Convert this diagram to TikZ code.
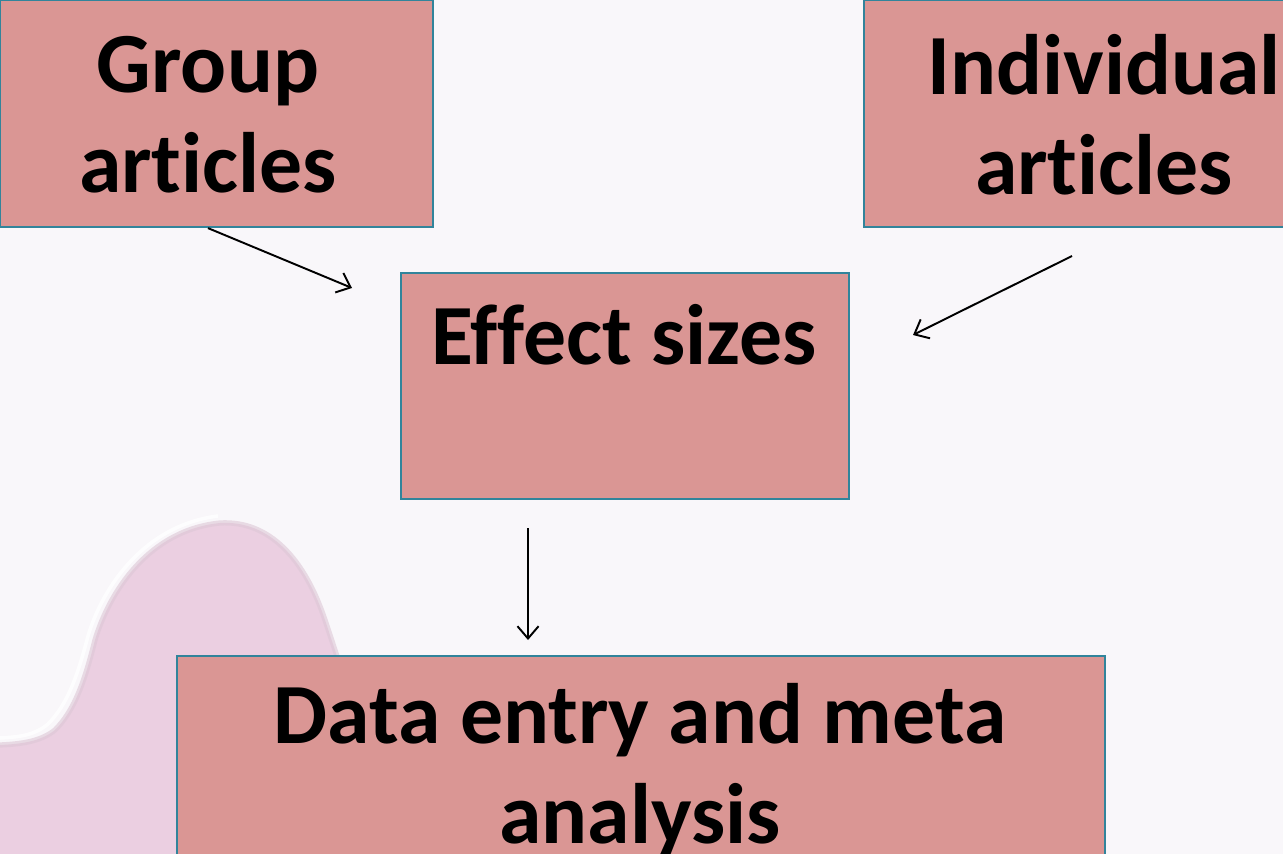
\documentclass[tikz,border=0pt]{standalone}
\usepackage{fontspec}
\setmainfont{Carlito}[Ligatures=NoCommon]
\usetikzlibrary{arrows.meta}
\definecolor{bg}{HTML}{F9F7FA}
\definecolor{boxfill}{HTML}{DA9694}
\definecolor{boxline}{HTML}{31849B}
\definecolor{blob}{HTML}{EBCFE1}
\definecolor{blobedge}{HTML}{DDC8D6}
\begin{document}
\begin{tikzpicture}[x=0.02cm,y=-0.02cm,
  box/.style={draw=boxline,line width=1.2pt,fill=boxfill,inner sep=0pt,anchor=north west},
  lbl/.style={font=\fontsize{48.8}{56.7}\selectfont\bfseries,align=center,inner sep=0pt},
  conn/.style={line width=1.1pt,-{Straight Barb[length=7pt,width=12pt,line width=1.1pt]}}]
\useasboundingbox (0,0) rectangle (1283,854);
\fill[bg] (0,0) rectangle (1283,854);
% background blob
\fill[blob] (0,745) .. controls (20,744) and (40,742) .. (55,730)
  .. controls (75,710) and (85,680) .. (95,640)
  .. controls (110,590) and (150,530) .. (220,523)
  .. controls (270,520) and (305,560) .. (325,620)
  .. controls (335,650) and (345,680) .. (350,700) -- (350,854) -- (0,854) -- cycle;
\draw[blobedge,line width=3pt,opacity=0.6] (0,745) .. controls (20,744) and (40,742) .. (55,730)
  .. controls (75,710) and (85,680) .. (95,640)
  .. controls (110,590) and (150,530) .. (220,523)
  .. controls (270,520) and (305,560) .. (325,620)
  .. controls (335,650) and (345,680) .. (350,700);
\draw[white,line width=2pt,opacity=0.8] (0,738) .. controls (20,737) and (35,735) .. (48,724)
  .. controls (68,704) and (78,674) .. (88,636)
  .. controls (103,586) and (145,525) .. (218,516);
% boxes
\node[box,minimum width=433*0.02cm,minimum height=227*0.02cm] (group) at (-1,-1) {};
\node[box,minimum width=440*0.02cm,minimum height=227*0.02cm] (indiv) at (863,-1) {};
\node[box,minimum width=448*0.02cm,minimum height=226*0.02cm] (effect) at (400,272) {};
\node[box,minimum width=928*0.02cm,minimum height=220*0.02cm] (data) at (176,655) {};
% labels
\node[lbl] (tgroup) at (208,115) {Group\\articles};
\node[lbl] (tindiv) at (1104,115) {Individual\\articles};
\node[lbl] (teffect) at (624,335) {Effect sizes};
\node[lbl] (tdata) at (640,770) {Data entry and meta\\analysis};
% connectors
\coordinate (e1) at (352,288);
\coordinate (s2) at (1072,256);
\coordinate (e2) at (913,335);
\coordinate (s3) at (528,528);
\coordinate (e3) at (528,640);
\draw[conn] (group.south -| 208,0) -- (e1);
\draw[conn] (s2) -- (e2);
\draw[conn] (s3) -- (e3);
\end{tikzpicture}
\end{document}
